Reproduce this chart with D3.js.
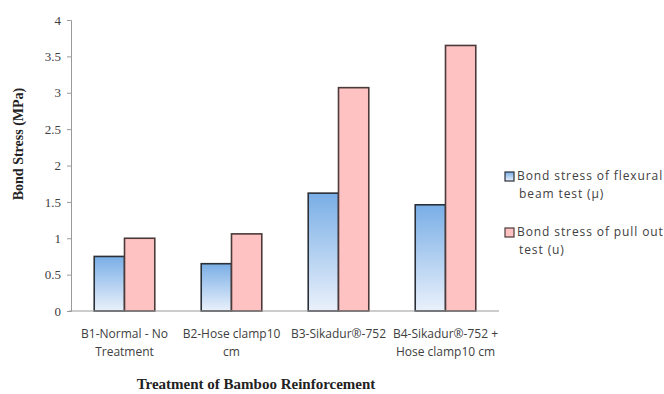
<!DOCTYPE html>
<html>
<head>
<meta charset="utf-8">
<script src="https://cdn.jsdelivr.net/npm/d3@7"></script>
<style>
  html, body { margin: 0; padding: 0; background: #fff; }
  svg { display: block; }
</style>
</head>
<body>
<svg id="chart" width="664" height="394"></svg>
<script>
// Bond stress for each treatment of bamboo reinforcement
const categories = [
  ["B1-Normal - No", "Treatment"],
  ["B2-Hose clamp10", "cm"],
  ["B3-Sikadur®-752", ""],
  ["B4-Sikadur®-752 +", "Hose clamp10 cm"]
];
const flexuralBeam = [0.75, 0.65, 1.62, 1.46];
const pullOut = [1.00, 1.06, 3.07, 3.65];
const seriesNames = [
  ["Bond stress of flexural", "beam test (μ)"],
  ["Bond stress of pull out", "test (u)"]
];
const yTicks = [0, 0.5, 1, 1.5, 2, 2.5, 3, 3.5, 4];

const svg = d3.select("#chart");
const plot = { left: 71, right: 499, top: 20, bottom: 311 };

const defs = svg.append("defs");
const grad = defs.append("linearGradient")
  .attr("id", "blueFill").attr("x1", 0).attr("y1", 0).attr("x2", 0).attr("y2", 1);
grad.append("stop").attr("offset", "0%").attr("stop-color", "#79aee6");
grad.append("stop").attr("offset", "100%").attr("stop-color", "#eaf1fb");

const x0 = d3.scaleBand()
  .domain(d3.range(categories.length))
  .range([plot.left, plot.right])
  .paddingInner(0.434)
  .paddingOuter(0.217);
const x1 = d3.scaleBand().domain([0, 1]).range([0, x0.bandwidth()]);
const y = d3.scaleLinear().domain([0, 4]).range([plot.bottom, plot.top]);

// y axis
const yAxis = d3.axisLeft(y).tickValues(yTicks).tickSize(4).tickPadding(6)
  .tickFormat(d => String(d));
const yg = svg.append("g").attr("transform", `translate(${plot.left},0)`).call(yAxis);
yg.select(".domain").attr("stroke", "#9a9a9a");
yg.selectAll(".tick line").attr("stroke", "#9a9a9a");
yg.selectAll(".tick text")
  .attr("fill", "#404040")
  .style("font-family", "'Liberation Serif', 'Times New Roman', serif")
  .style("font-size", "13px");

// bars
const groups = svg.append("g").selectAll("g")
  .data(categories.map((c, i) => i))
  .join("g")
  .attr("transform", i => `translate(${x0(i)},0)`);

groups.append("rect")
  .attr("x", x1(0)).attr("width", x1.bandwidth())
  .attr("y", i => y(flexuralBeam[i]))
  .attr("height", i => y(0) - y(flexuralBeam[i]))
  .attr("fill", "url(#blueFill)")
  .attr("stroke", "#2a2f38").attr("stroke-width", 1.6);

groups.append("rect")
  .attr("x", x1(1)).attr("width", x1.bandwidth())
  .attr("y", i => y(pullOut[i]))
  .attr("height", i => y(0) - y(pullOut[i]))
  .attr("fill", "#ffc2c2")
  .attr("stroke", "#4a3a3a").attr("stroke-width", 1.6);

// x axis line
svg.append("line")
  .attr("x1", plot.left - 2).attr("x2", plot.right)
  .attr("y1", plot.bottom).attr("y2", plot.bottom)
  .attr("stroke", "#9a9a9a").attr("stroke-width", 1.2);

// category labels
const catFont = "'Open Sans', 'Liberation Sans', sans-serif";
categories.forEach((lines, i) => {
  const cx = x0(i) + x0.bandwidth() / 2;
  lines.forEach((t, j) => {
    if (!t) return;
    svg.append("text")
      .attr("x", cx).attr("y", 338 + j * 18)
      .attr("text-anchor", "middle")
      .attr("fill", "#404040")
      .style("font-family", catFont)
      .style("font-size", "12px")
      .text(t);
  });
});

// axis titles
svg.append("text")
  .attr("transform", "translate(23,144) rotate(-90)")
  .attr("text-anchor", "middle")
  .attr("fill", "#222")
  .style("font-family", "'Liberation Serif', 'Times New Roman', serif")
  .style("font-weight", "bold")
  .style("font-size", "14px")
  .text("Bond Stress (MPa)");

svg.append("text")
  .attr("x", 256).attr("y", 389)
  .attr("text-anchor", "middle")
  .attr("fill", "#222")
  .style("font-family", "'Liberation Serif', 'Times New Roman', serif")
  .style("font-weight", "bold")
  .style("font-size", "15px")
  .text("Treatment of Bamboo Reinforcement");

// legend
const legendFills = ["url(#blueFill)", "#ffc2c2"];
const legendStrokes = ["#2a2f38", "#4a3a3a"];
const legendY = [176, 232];
seriesNames.forEach((lines, k) => {
  svg.append("rect")
    .attr("x", 505).attr("y", legendY[k] - 4)
    .attr("width", 9).attr("height", 9)
    .attr("fill", legendFills[k])
    .attr("stroke", legendStrokes[k]).attr("stroke-width", 1.2);
  lines.forEach((t, j) => {
    svg.append("text")
      .attr("x", j === 0 ? 517 : 519).attr("y", legendY[k] + 4 + j * 18)
      .attr("fill", "#404040")
      .style("font-family", catFont)
      .style("font-size", "12px")
      .style("letter-spacing", "0.9px")
      .text(t);
  });
});
</script>
</body>
</html>
